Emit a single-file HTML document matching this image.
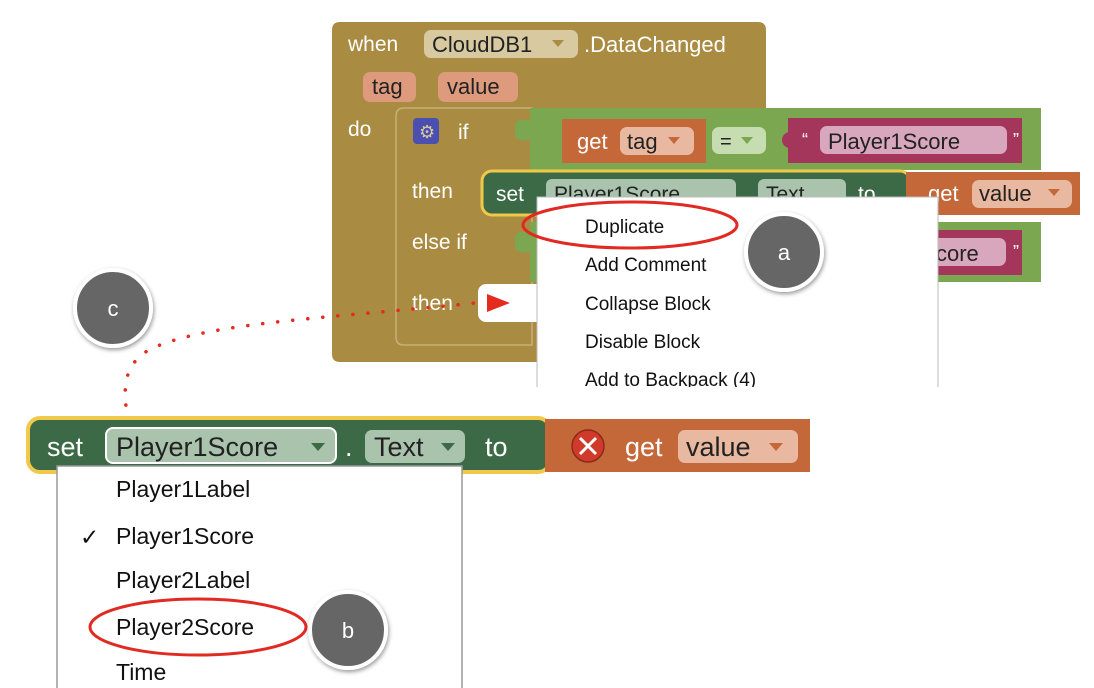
<!DOCTYPE html>
<html><head><meta charset="utf-8"><style>
html,body{margin:0;padding:0;background:#fff;width:1094px;height:688px;overflow:hidden}
svg text{font-family:"Liberation Sans",Arial,sans-serif}
</style></head><body>
<svg width="1094" height="688" viewBox="0 0 1094 688" xmlns="http://www.w3.org/2000/svg">
<defs>
<filter id="sh" x="-30%" y="-30%" width="160%" height="160%"><feDropShadow dx="1" dy="2" stdDeviation="2" flood-color="#000" flood-opacity="0.4"/></filter>
</defs>
<!-- outer event block -->
<path d="M340,22 H758 Q766,22 766,30 V108 H540 V362 H340 Q332,362 332,354 V30 Q332,22 340,22 Z" fill="#a98b42"/>
<!-- inner if block -->
<path d="M404,108 H532 V345 H404 Q396,345 396,337 V116 Q396,108 404,108 Z" fill="#a98b42" stroke="#c7b07a" stroke-width="1.5"/>
<text x="348" y="51" font-size="21" fill="#fff">when</text>
<rect x="424" y="30" width="154" height="28" rx="7" fill="#d8c9a0"/>
<text x="432" y="52" font-size="22" fill="#222">CloudDB1</text>
<path d="M552,40 h12 l-6,7 z" fill="#a98b42"/>
<text x="584" y="52" font-size="22" fill="#fff">.DataChanged</text>
<rect x="363" y="72" width="53" height="30" rx="7" fill="#dd9a7d"/>
<text x="372" y="94" font-size="22" fill="#222">tag</text>
<rect x="438" y="72" width="80" height="30" rx="7" fill="#dd9a7d"/>
<text x="447" y="94" font-size="22" fill="#222">value</text>
<text x="348" y="136" font-size="21" fill="#fff">do</text>
<rect x="413" y="118" width="26" height="26" rx="4" fill="#4a4fb0"/>
<text x="419" y="138" font-size="18" fill="#d8c9a0">⚙</text>
<text x="458" y="139" font-size="21" fill="#fff">if</text>
<text x="412" y="198" font-size="21" fill="#fff">then</text>
<text x="412" y="249" font-size="21" fill="#fff">else if</text>
<text x="412" y="310" font-size="21" fill="#fff">then</text>
<!-- green if condition -->
<rect x="530" y="108" width="511" height="62" fill="#7aa74f"/>
<rect x="515" y="120" width="18" height="20" rx="6" fill="#7aa74f"/>
<rect x="562" y="119" width="144" height="44" fill="#c4683a"/>
<text x="577" y="149" font-size="22" fill="#fff">get</text>
<rect x="620" y="127" width="74" height="28" rx="7" fill="#e9b8a0"/>
<text x="627" y="149" font-size="22" fill="#222">tag</text>
<path d="M668,137 h12 l-6,7 z" fill="#c4683a"/>
<rect x="712" y="127" width="54" height="27" rx="7" fill="#c6dcb1"/>
<text x="720" y="148" font-size="20" fill="#222">=</text>
<path d="M741,137 h12 l-6,7 z" fill="#7aa74f"/>
<rect x="788" y="118" width="234" height="45" fill="#a3365a"/>
<circle cx="790" cy="140" r="8" fill="#a3365a"/>
<text x="802" y="146" font-size="18" fill="#fff">“</text>
<rect x="820" y="126" width="187" height="28" rx="7" fill="#d9a7bd"/>
<text x="828" y="149" font-size="22" fill="#222">Player1Score</text>
<text x="1013" y="146" font-size="18" fill="#fff">”</text>
<!-- set block -->
<rect x="482" y="171" width="428" height="44" rx="10" fill="#3c6a46" stroke="#f0c94a" stroke-width="3"/>
<text x="496" y="201" font-size="21" fill="#fff">set</text>
<rect x="546" y="179" width="190" height="28" rx="6" fill="#a9c3ad"/>
<text x="554" y="201" font-size="21" fill="#222">Player1Score</text>
<rect x="758" y="179" width="88" height="28" rx="6" fill="#a9c3ad"/>
<text x="766" y="201" font-size="21" fill="#222">Text</text>
<text x="858" y="201" font-size="21" fill="#fff">to</text>
<rect x="906" y="172" width="174" height="43" fill="#c4683a"/>
<text x="928" y="201" font-size="22" fill="#fff">get</text>
<rect x="972" y="180" width="100" height="28" rx="7" fill="#e9b8a0"/>
<text x="979" y="201" font-size="22" fill="#222">value</text>
<path d="M1048,189 h12 l-6,7 z" fill="#c4683a"/>
<!-- else if green -->
<rect x="530" y="222" width="511" height="60" fill="#7aa74f"/>
<rect x="515" y="232" width="18" height="20" rx="6" fill="#7aa74f"/>
<rect x="900" y="230" width="122" height="45" fill="#a3365a"/>
<rect x="900" y="238" width="106" height="28" rx="7" fill="#d9a7bd"/>
<text x="936" y="261" font-size="22" fill="#222">core</text>
<text x="1013" y="258" font-size="18" fill="#fff">”</text>
<!-- then socket -->
<rect x="478" y="284" width="70" height="38" rx="8" fill="#fff"/>
<path d="M487,294 L510,303 L487,312 Z" fill="#e52a1e"/>
<!-- context menu -->
<rect x="537" y="197" width="401" height="200" fill="#fff" stroke="#bbb" stroke-width="1"/>
<g font-size="19" fill="#111">
<text x="585" y="233">Duplicate</text>
<text x="585" y="271">Add Comment</text>
<text x="585" y="310">Collapse Block</text>
<text x="585" y="348">Disable Block</text>
<text x="585" y="386">Add to Backpack (4)</text>
</g>
<rect x="0" y="387" width="1094" height="30" fill="#fff"/>
<ellipse cx="630" cy="225" rx="107" ry="23" fill="none" stroke="#e02a22" stroke-width="3"/>
<!-- dotted connector -->
<path d="M128,420 C124,395 118,360 160,345 C220,322 330,318 475,303" fill="none" stroke="#e52a1e" stroke-width="3.5" stroke-dasharray="0.1 15" stroke-linecap="round"/>
<!-- lower set block -->
<rect x="28" y="418" width="522" height="54" rx="12" fill="#3c6a46" stroke="#f0c94a" stroke-width="4"/>
<text x="47" y="456" font-size="27" fill="#fff">set</text>
<rect x="106" y="428" width="230" height="35" rx="7" fill="#a9c3ad" stroke="#fff" stroke-width="2"/>
<text x="116" y="456" font-size="27" fill="#222">Player1Score</text>
<path d="M311,443 h14 l-7,8 z" fill="#3c6a46"/>
<text x="345" y="456" font-size="27" fill="#fff">.</text>
<rect x="365" y="430" width="100" height="33" rx="7" fill="#a9c3ad"/>
<text x="374" y="456" font-size="27" fill="#222">Text</text>
<path d="M441,443 h14 l-7,8 z" fill="#3c6a46"/>
<text x="485" y="456" font-size="27" fill="#fff">to</text>
<rect x="545" y="419" width="265" height="53" fill="#c4683a"/>
<circle cx="588" cy="446" r="16" fill="#d03a2a" stroke="#8c2a1a" stroke-width="1.5"/>
<path d="M580,438 l16,16 M596,438 l-16,16" stroke="#fff" stroke-width="3"/>
<text x="625" y="456" font-size="27" fill="#fff">get</text>
<rect x="678" y="430" width="120" height="33" rx="7" fill="#e9b8a0"/>
<text x="686" y="456" font-size="27" fill="#222">value</text>
<path d="M769,443 h14 l-7,8 z" fill="#c4683a"/>
<!-- dropdown -->
<rect x="57" y="466" width="405" height="230" fill="#fff" stroke="#999" stroke-width="1.5"/>
<g font-size="23" fill="#111">
<text x="116" y="497">Player1Label</text>
<text x="80" y="545">✓</text>
<text x="116" y="544">Player1Score</text>
<text x="116" y="588">Player2Label</text>
<text x="116" y="635">Player2Score</text>
<text x="116" y="680">Time</text>
</g>
<ellipse cx="198" cy="627" rx="108" ry="28" fill="none" stroke="#e02a22" stroke-width="3"/>
<!-- circles -->
<g filter="url(#sh)">
<circle cx="784" cy="252" r="38" fill="#666" stroke="#fff" stroke-width="4"/>
<circle cx="113" cy="308" r="38" fill="#666" stroke="#fff" stroke-width="4"/>
<circle cx="348" cy="630" r="38" fill="#666" stroke="#fff" stroke-width="4"/>
</g>
<g font-size="22" fill="#fff" text-anchor="middle">
<text x="784" y="260">a</text>
<text x="113" y="316">c</text>
<text x="348" y="638">b</text>
</g>
</svg>
</body></html>
